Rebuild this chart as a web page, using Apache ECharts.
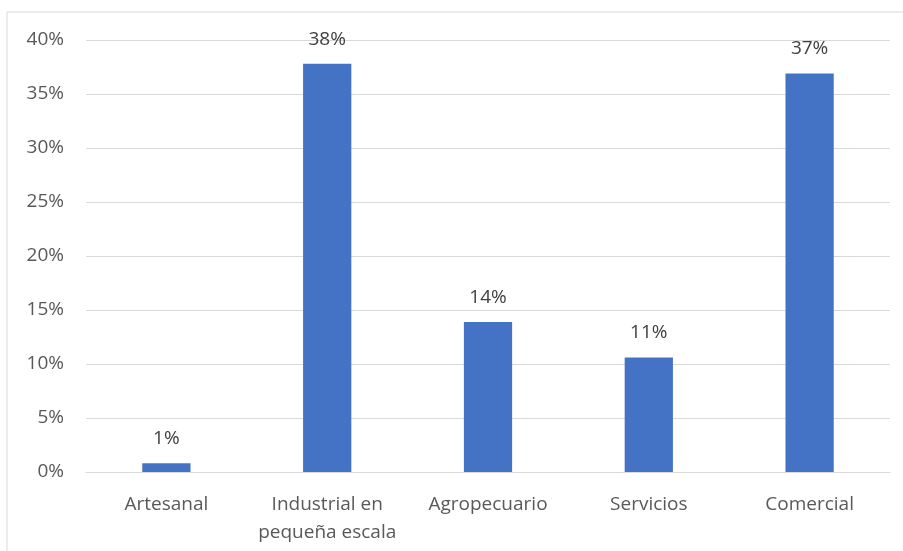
<!DOCTYPE html>
<html>
<head>
<meta charset="utf-8">
<script src="https://cdn.jsdelivr.net/npm/echarts@6/dist/echarts.min.js"></script>
<style>
  html, body { margin: 0; padding: 0; background: #ffffff; }
  #chart { width: 903px; height: 551px; }
</style>
</head>
<body>
<div id="chart"></div>
<script>
// Sectores de actividad y su participación (%)
const categories = ['Artesanal', 'Industrial en\npequeña escala', 'Agropecuario', 'Servicios', 'Comercial'];
const shares = [0.8, 37.8, 13.9, 10.6, 36.9];
const yTicks = [0, 5, 10, 15, 20, 25, 30, 35, 40];

const FONT = '"Open Sans", sans-serif';

const chart = echarts.init(document.getElementById('chart'), null, { renderer: 'canvas' });

chart.setOption({
  backgroundColor: '#ffffff',
  animation: false,
  graphic: [{
    type: 'rect',
    shape: { x: 7, y: 12, width: 910, height: 560 },
    style: { fill: 'none', stroke: '#d9d9d9', lineWidth: 1 },
    silent: true
  }],
  grid: { left: 86, right: 13, top: 40, bottom: 79, containLabel: false },
  xAxis: {
    type: 'category',
    data: categories,
    axisLine: { lineStyle: { color: '#d9d9d9', width: 1 } },
    axisTick: { show: false },
    axisLabel: {
      color: '#595959',
      fontFamily: FONT,
      fontSize: 19,
      lineHeight: 28,
      margin: 19,
      interval: 0
    }
  },
  yAxis: {
    type: 'value',
    min: yTicks[0],
    max: yTicks[yTicks.length - 1],
    interval: 5,
    axisLine: { show: false },
    axisTick: { show: false },
    splitLine: { lineStyle: { color: '#d9d9d9', width: 1 } },
    axisLabel: {
      color: '#595959',
      fontFamily: FONT,
      fontSize: 19,
      margin: 22,
      formatter: v => v + '%'
    }
  },
  series: [{
    type: 'bar',
    data: shares,
    barWidth: '30%',
    itemStyle: { color: '#4472C4' },
    label: {
      show: true,
      position: 'top',
      distance: 15,
      color: '#404040',
      fontFamily: FONT,
      fontSize: 19,
      formatter: p => Math.round(p.value) + '%'
    }
  }]
});
</script>
</body>
</html>
